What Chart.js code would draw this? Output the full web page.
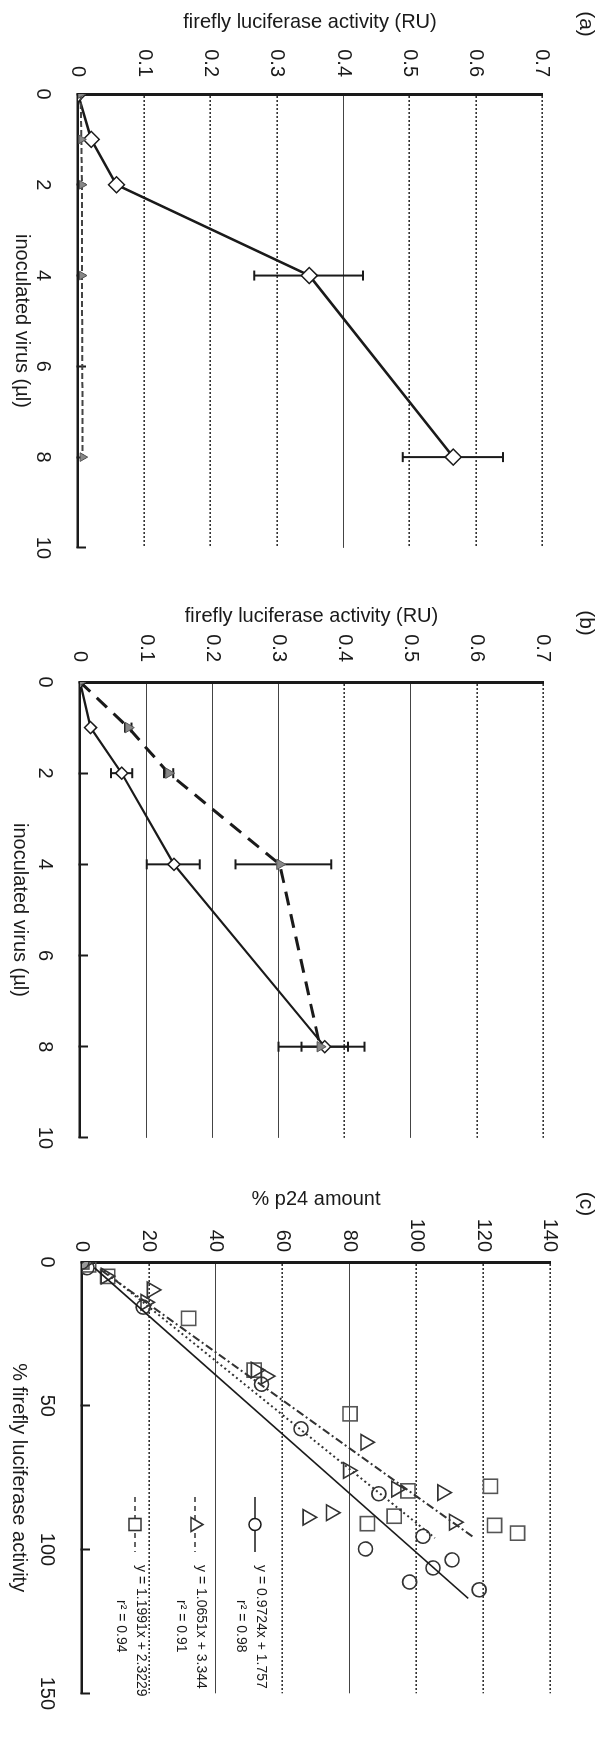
<!DOCTYPE html>
<html>
<head>
<meta charset="utf-8">
<script src="https://cdn.jsdelivr.net/npm/chart.js@4.4.0/dist/chart.umd.min.js"></script>
<style>
html, body { margin: 0; padding: 0; background: #fff; overflow: hidden; }
/* the figure is laid out landscape and turned a quarter clockwise */
#sheet { position: absolute; left: 0; top: 0; width: 1741px; height: 604px;
         transform-origin: 0 0; transform: translateX(604px) rotate(90deg); }
#sheet canvas { position: absolute; top: 0; }
</style>
</head>
<body>
<div id="sheet">
  <canvas id="chartA" width="590" height="604" style="left:0px"></canvas>
  <canvas id="chartB" width="590" height="604" style="left:590px"></canvas>
  <canvas id="chartC" width="561" height="604" style="left:1180px"></canvas>
</div>
<script>
// ---- data ----
const virusUl = [0, 1, 2, 4, 8];
const virusTicks = [0, 2, 4, 6, 8, 10];
const luxTicks = [0, 0.1, 0.2, 0.3, 0.4, 0.5, 0.6, 0.7];
const luxLabels = ['0', '0.1', '0.2', '0.3', '0.4', '0.5', '0.6', '0.7'];

// (a)
const aOpen = [0, 0.02, 0.058, 0.349, 0.566];
const aOpenLo = [null, null, null, 0.266, 0.49];
const aOpenHi = [null, null, null, 0.43, 0.641];
const aGray = [0.004, 0.005, 0.006, 0.006, 0.007];

// (b)
const bOpen = [0, 0.016, 0.063, 0.142, 0.37];
const bOpenLo = [null, null, 0.047, 0.101, 0.30];
const bOpenHi = [null, null, 0.079, 0.181, 0.43];
const bGray = [0, 0.073, 0.134, 0.302, 0.363];
const bGrayLo = [null, 0.068, 0.127, 0.235, 0.335];
const bGrayHi = [null, 0.078, 0.141, 0.38, 0.405];

// (c)  x = % firefly luciferase activity, y = % p24 amount
const flucTicks = [0, 50, 100, 150];
const p24Ticks = [0, 20, 40, 60, 80, 100, 120, 140];
const circFluc = [0, 2, 15.7, 42.5, 58, 80.6, 95.4, 99.8, 103.6, 106.4, 111.3, 114];
const circP24 = [0, 1.5, 18.3, 53.7, 65.5, 88.8, 102, 84.8, 110.7, 105, 98, 118.8];
const triFluc = [0, 4.9, 9.7, 14, 37.6, 39.7, 62.7, 72.5, 79, 80.2, 87.2, 88.8, 90.5];
const triP24 = [1, 7.1, 20.9, 19, 52, 55, 84.8, 79.6, 94, 107.8, 74.5, 67.5, 111.3];
const sqFluc = [0, 1, 5, 19.6, 37.6, 52.8, 78, 79.6, 88.4, 91, 91.6, 94.3];
const sqP24 = [0, 2, 7.7, 31.9, 51.5, 80.2, 122.2, 97.5, 93.4, 85.4, 123.4, 130.3];
const fitSlope = [0.9724, 1.0651, 1.1991];
const fitIntercept = [1.757, 3.344, 2.3229];
const fitR2 = ['0.98', '0.91', '0.94'];
const fitFrom = [2, 3, 3];
const fitTo = [117, 96, 96];

// ---- shared look ----
const ink = '#1a1a1a';
const font = { family: "'Liberation Sans', Arial, sans-serif", size: 20 };
const pts = (xs, ys) => xs.map((x, i) => ({ x: x, y: ys[i] }));

// vertical error bars with caps
const errorBars = {
  id: 'errorBars',
  beforeDatasetsDraw(chart) {
    const { ctx, scales: { x, y } } = chart;
    chart.data.datasets.forEach(ds => {
      if (!ds.errLo) return;
      ds.data.forEach((p, i) => {
        if (ds.errLo[i] == null) return;
        const px = x.getPixelForValue(p.x);
        const y1 = y.getPixelForValue(ds.errLo[i]);
        const y2 = y.getPixelForValue(ds.errHi[i]);
        ctx.save();
        ctx.strokeStyle = ink;
        ctx.lineWidth = 2;
        ctx.beginPath();
        ctx.moveTo(px, y1); ctx.lineTo(px, y2);
        ctx.moveTo(px - 5, y1); ctx.lineTo(px + 5, y1);
        ctx.moveTo(px - 5, y2); ctx.lineTo(px + 5, y2);
        ctx.stroke();
        ctx.restore();
      });
    });
  }
};

// (a) (b) (c) letters
const panelTag = {
  id: 'panelTag',
  afterDraw(chart, args, opts) {
    if (!opts.text) return;
    const ctx = chart.ctx;
    ctx.save();
    ctx.fillStyle = ink;
    ctx.font = '21px ' + font.family;
    ctx.textAlign = 'center';
    ctx.textBaseline = 'middle';
    ctx.fillText(opts.text, opts.x, opts.y);
    ctx.restore();
  }
};
Chart.register(errorBars, panelTag);

function yGrid(solid) {
  return {
    grid: {
      drawTicks: false,
      color: c => (c.tick && solid.includes(c.index)) ? '#444' : '#333',
      lineWidth: c => (c.tick && solid.includes(c.index)) ? 1 : 1.6
    },
    dash: c => (c.tick && c.index > 0 && !solid.includes(c.index)) ? [2, 2] : []
  };
}

function baseOptions(cfg) {
  const g = yGrid(cfg.solid);
  return {
    responsive: false,
    animation: false,
    layout: { padding: { top: cfg.top, right: cfg.right, left: 0, bottom: 0 } },
    plugins: {
      legend: { display: false },
      tooltip: { enabled: false },
      panelTag: { text: cfg.tag, x: cfg.tagX, y: 18 }
    },
    scales: {
      x: {
        type: 'linear', min: cfg.xTicks[0], max: cfg.xTicks[cfg.xTicks.length - 1],
        afterBuildTicks: s => { s.ticks = cfg.xTicks.map(v => ({ value: v })); },
        afterFit: s => { s.height = cfg.xHeight; },
        grid: { display: true, drawOnChartArea: false, drawTicks: true, tickLength: -8, tickWidth: 2, tickColor: ink },
        border: { display: true, color: ink, width: 2.5 },
        ticks: { padding: 31, font: font, color: ink, maxRotation: 0 },
        title: { display: true, text: cfg.xTitle, font: font, color: ink, padding: { top: 0, bottom: cfg.xTitlePad } }
      },
      y: {
        type: 'linear', min: cfg.yTicks[0], max: cfg.yTicks[cfg.yTicks.length - 1],
        afterBuildTicks: s => { s.ticks = cfg.yTicks.map(v => ({ value: v })); },
        afterFit: s => { s.width = cfg.yWidth; },
        grid: g.grid,
        border: { display: true, color: ink, width: 3, dash: g.dash },
        ticks: { padding: cfg.yTickPad, font: font, color: ink, callback: (v, i) => cfg.yLabels[i] },
        title: { display: true, text: cfg.yTitle, font: font, color: ink, padding: { top: cfg.yTitlePad, bottom: 0 } }
      }
    }
  };
}

// ---- (a) ----
new Chart(document.getElementById('chartA'), {
  type: 'scatter',
  data: {
    datasets: [{
      data: pts(virusUl, aGray),
      showLine: true, borderColor: '#444', borderWidth: 2, borderDash: [6, 3],
      pointStyle: 'triangle', pointRadius: 5, pointBackgroundColor: '#888', pointBorderColor: '#555', pointBorderWidth: 1
    }, {
      data: pts(virusUl, aOpen), errLo: aOpenLo, errHi: aOpenHi,
      showLine: true, borderColor: ink, borderWidth: 2.5,
      pointStyle: 'rectRot', pointRadius: 8, pointBackgroundColor: '#fff', pointBorderColor: ink, pointBorderWidth: 1.5
    }]
  },
  options: baseOptions({
    top: 62, right: 23, xHeight: 78, yWidth: 94, yTickPad: 17, yTitlePad: 10, xTitlePad: 10,
    xTicks: virusTicks, yTicks: luxTicks, yLabels: luxLabels, solid: [4],
    xTitle: 'inoculated virus (µl)', yTitle: 'firefly luciferase activity (RU)',
    tag: '(a)', tagX: 24
  })
});

// ---- (b) ----
new Chart(document.getElementById('chartB'), {
  type: 'scatter',
  data: {
    datasets: [{
      data: pts(virusUl, bGray), errLo: bGrayLo, errHi: bGrayHi,
      showLine: true, borderColor: ink, borderWidth: 3, borderDash: [14, 9],
      pointStyle: 'triangle', pointRadius: 6, pointBackgroundColor: '#888', pointBorderColor: '#555', pointBorderWidth: 1
    }, {
      data: pts(virusUl, bOpen), errLo: bOpenLo, errHi: bOpenHi,
      showLine: true, borderColor: ink, borderWidth: 2.2,
      pointStyle: 'rectRot', pointRadius: 6, pointBackgroundColor: '#fff', pointBorderColor: ink, pointBorderWidth: 1.5
    }]
  },
  options: baseOptions({
    top: 61, right: 28, xHeight: 80, yWidth: 92, yTickPad: 20, yTitlePad: 14, xTitlePad: 8,
    xTicks: virusTicks, yTicks: luxTicks, yLabels: luxLabels, solid: [1, 2, 3, 5],
    xTitle: 'inoculated virus (µl)', yTitle: 'firefly luciferase activity (RU)',
    tag: '(b)', tagX: 33
  })
});

// ---- (c) ----
const fitStyles = [
  { dash: [], width: 1.6, color: ink, point: 'circle', r: 7 },
  { dash: [2, 3], width: 2, color: '#333', point: 'triangle', r: 9 },
  { dash: [8, 3, 2, 3], width: 2, color: '#333', point: 'rect', r: 10 }
];

const fitLegend = {
  id: 'fitLegend',
  afterDraw(chart) {
    const { ctx, chartArea } = chart;
    const x0 = chartArea.left + 235, x1 = chartArea.left + 290;
    const xm = (x0 + x1) / 2;
    fitSlope.forEach((m, i) => {
      const st = fitStyles[i];
      const ys = chartArea.top + 295 + i * 60;
      ctx.save();
      ctx.strokeStyle = st.color;
      ctx.lineWidth = 1.6;
      ctx.setLineDash(i === 0 ? [] : [5, 4]);
      ctx.beginPath(); ctx.moveTo(x0, ys); ctx.lineTo(x1, ys); ctx.stroke();
      ctx.setLineDash([]);
      ctx.fillStyle = '#fff';
      ctx.beginPath();
      if (st.point === 'circle') ctx.arc(xm, ys, 6, 0, Math.PI * 2);
      else if (st.point === 'triangle') { ctx.moveTo(xm, ys - 8); ctx.lineTo(xm + 7, ys + 4); ctx.lineTo(xm - 7, ys + 4); ctx.closePath(); }
      else ctx.rect(xm - 6, ys - 6, 12, 12);
      ctx.fill(); ctx.stroke();
      ctx.fillStyle = ink;
      ctx.font = '14px ' + font.family;
      ctx.textBaseline = 'middle';
      ctx.textAlign = 'left';
      ctx.fillText('y = ' + m + 'x + ' + fitIntercept[i], chartArea.left + 303, ys - 6);
      ctx.fillText('r² = ' + fitR2[i], chartArea.left + 338, ys + 14);
      ctx.restore();
    });
  }
};

const fitSets = fitSlope.map((m, i) => ({
  data: [fitFrom[i], fitTo[i]].map(x => ({ x: x, y: m * x + fitIntercept[i] })),
  showLine: true, pointRadius: 0,
  borderColor: fitStyles[i].color, borderWidth: fitStyles[i].width, borderDash: fitStyles[i].dash
}));

// the controls at the origin print as a grey blot in the scan
const markerSet = (xs, ys, i, color) => ({
  data: pts(xs, ys),
  pointStyle: fitStyles[i].point, pointRadius: fitStyles[i].r,
  pointBackgroundColor: c => c.dataIndex === 0 ? '#999' : 'rgba(0,0,0,0)',
  pointBorderColor: color, pointBorderWidth: 1.6
});

new Chart(document.getElementById('chartC'), {
  type: 'scatter',
  data: {
    datasets: fitSets.concat([
      markerSet(circFluc, circP24, 0, '#333'),
      markerSet(triFluc, triP24, 1, '#333'),
      markerSet(sqFluc, sqP24, 2, '#555')
    ])
  },
  options: baseOptions({
    top: 54, right: 21, xHeight: 82, yWidth: 82, yTickPad: 10, yTitlePad: 7, xTitlePad: 7,
    xTicks: flucTicks, yTicks: p24Ticks, yLabels: p24Ticks.map(String), solid: [2, 4],
    xTitle: '% firefly luciferase activity', yTitle: '% p24 amount',
    tag: '(c)', tagX: 24
  }),
  plugins: [fitLegend]
});
</script>
</body>
</html>
